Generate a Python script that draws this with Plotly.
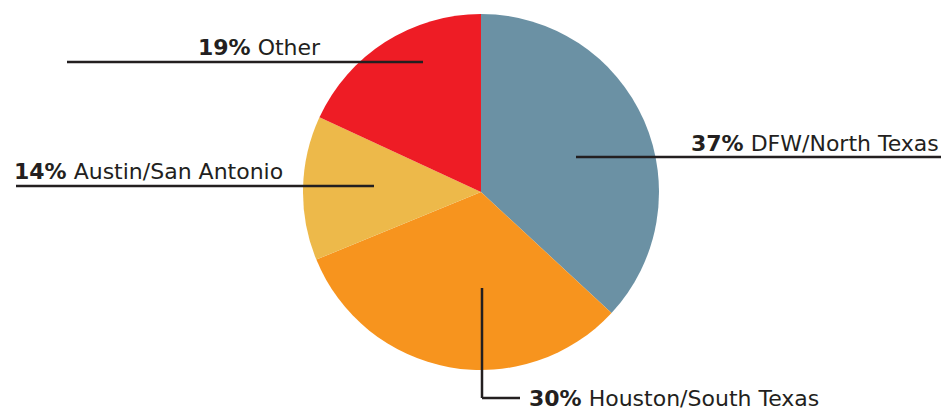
import plotly.graph_objects as go

W, H = 948, 411

regions = ["DFW/North Texas", "Houston/South Texas", "Austin/San Antonio", "Other"]
# slice sizes as drawn in the picture
slice_sizes = [36.9, 31.9, 13.1, 18.1]
# percentages printed in the labels
label_pcts = [37, 30, 14, 19]
colors = ["#6B91A4", "#F7941E", "#EDB94A", "#EE1C25"]

fig = go.Figure(go.Pie(
    labels=regions,
    values=slice_sizes,
    sort=False,
    direction="clockwise",
    rotation=0,
    marker=dict(colors=colors, line=dict(width=0)),
    textinfo="none",
    hoverinfo="label",
    showlegend=False,
    domain=dict(x=[303 / W, 659 / W], y=[1 - 370 / H, 1 - 14 / H]),
))

def px(x):
    return x / W

def py(y):
    return 1 - y / H

line_style = dict(color="#231F20", width=2.5)
lines = [
    [(576, 157), (941, 157)],
    [(482, 288), (482, 398), (520, 398)],
    [(16, 186), (374, 186)],
    [(67, 62), (423, 62)],
]
shapes = []
for pts in lines:
    for (x0, y0), (x1, y1) in zip(pts[:-1], pts[1:]):
        shapes.append(dict(type="line", xref="paper", yref="paper",
                           x0=px(x0), y0=py(y0), x1=px(x1), y1=py(y1),
                           line=line_style, layer="above"))

label_pos = [  # (x, y, xanchor)
    (941, 143, "right"),
    (527, 398, "left"),
    (12, 172, "left"),
    (323, 48, "right"),
]
annotations = []
for name, val, (x, y, xa) in zip(regions, label_pcts, label_pos):
    annotations.append(dict(
        xref="paper", yref="paper", x=px(x), y=py(y),
        xanchor=xa, yanchor="middle", showarrow=False,
        text=f"<b>{val}%</b> {name}",
        font=dict(family="DejaVu Sans", size=22, color="#231F20"),
    ))

fig.update_layout(
    width=W, height=H,
    margin=dict(l=0, r=0, t=0, b=0),
    paper_bgcolor="white", plot_bgcolor="white",
    shapes=shapes, annotations=annotations,
)

fig.write_html(
    "out.html",
    config={"displayModeBar": False},
    post_script="document.body.style.margin='0';document.body.style.overflow='hidden';",
)
